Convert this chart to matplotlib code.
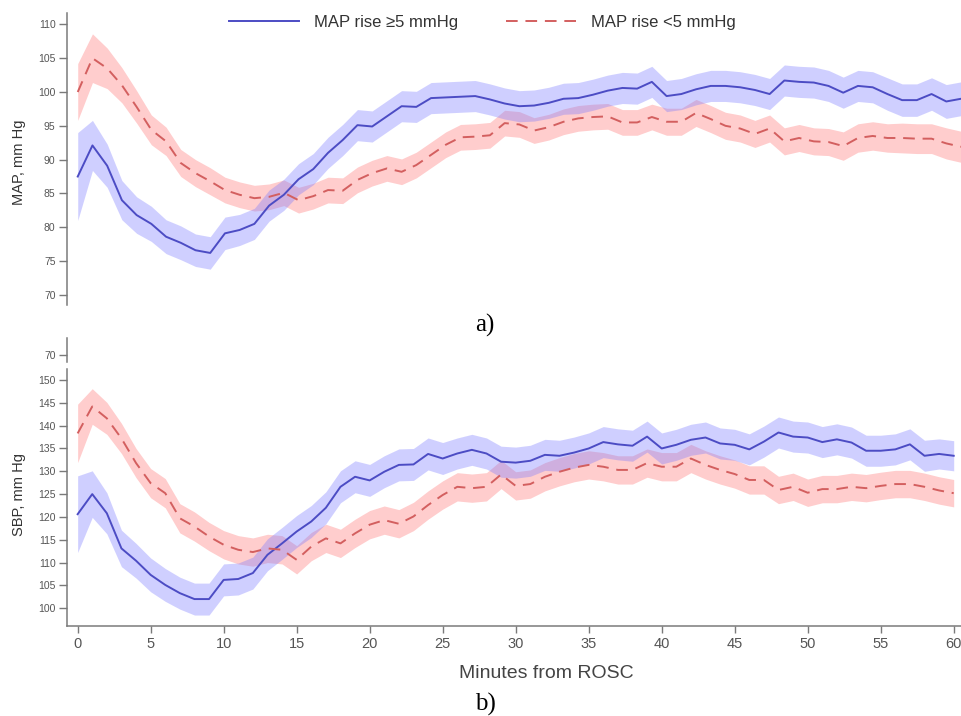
import numpy as np
import matplotlib.pyplot as plt

# minutes from ROSC
minutes = list(range(61))

# MAP (top panel), mean and half-width of the shaded band
map_hi = [87.5, 92.1, 89.1, 84.0, 81.8, 80.5, 78.6, 77.7, 76.6, 76.2,
          79.1, 79.6, 80.5, 83.2, 84.8, 87.1, 88.6, 91.0, 92.9, 95.1,
          94.9, 96.4, 97.9, 97.8, 99.1, 99.2, 99.3, 99.4, 98.9, 98.3,
          97.9, 98.0, 98.4, 99.0, 99.1, 99.6, 100.2, 100.6, 100.5, 101.5,
          99.4, 99.7, 100.4, 100.9, 100.9, 100.7, 100.3, 99.7, 101.7, 101.5,
          101.4, 100.9, 99.9, 100.9, 100.7, 99.7, 98.8, 98.8, 99.7, 98.6,
          99.0]
map_hi_ci = [6.5, 3.7, 3.2, 2.9, 2.7, 2.6, 2.5, 2.5, 2.4, 2.4,
             2.4, 2.3, 2.3, 2.3, 2.3, 2.3, 2.3, 2.3, 2.3, 2.3,
             2.3, 2.3, 2.3, 2.3, 2.3, 2.3, 2.3, 2.3, 2.3, 2.3,
             2.3, 2.3, 2.3, 2.3, 2.3, 2.3, 2.3, 2.3, 2.3, 2.3,
             2.3, 2.3, 2.3, 2.3, 2.3, 2.3, 2.3, 2.3, 2.3, 2.3,
             2.3, 2.3, 2.3, 2.3, 2.3, 2.4, 2.4, 2.4, 2.4, 2.5,
             2.5]
map_lo = [100.0, 105.0, 103.5, 101.0, 97.8, 94.4, 92.7, 89.5, 88.0, 86.8,
          85.5, 84.8, 84.3, 84.5, 85.1, 84.0, 84.6, 85.5, 85.4, 87.0,
          88.0, 88.7, 88.2, 89.2, 90.7, 92.2, 93.3, 93.4, 93.6, 95.4,
          95.2, 94.3, 94.8, 95.6, 96.1, 96.3, 96.4, 95.5, 95.5, 96.3,
          95.6, 95.6, 96.9, 96.0, 95.0, 94.6, 93.8, 94.6, 92.7, 93.2,
          92.7, 92.6, 92.0, 93.2, 93.5, 93.2, 93.2, 93.1, 93.1, 92.4,
          91.9]
map_lo_ci = [4.2, 3.6, 3.0, 2.6, 2.4, 2.2, 2.1, 2.0, 2.0, 2.0,
             1.9, 1.9, 1.9, 1.9, 1.9, 1.9, 1.9, 1.9, 1.9, 1.9,
             1.9, 1.9, 1.9, 1.9, 1.9, 1.9, 1.9, 1.9, 1.9, 1.9,
             1.9, 1.9, 1.9, 1.9, 1.9, 1.9, 1.9, 1.9, 1.9, 1.9,
             2.0, 2.0, 2.0, 2.0, 2.0, 2.0, 2.0, 2.0, 2.0, 2.0,
             2.0, 2.0, 2.1, 2.1, 2.1, 2.1, 2.2, 2.2, 2.2, 2.3,
             2.3]

# SBP (bottom panel)
sbp_hi = [120.6, 125.0, 120.8, 113.1, 110.4, 107.3, 105.1, 103.3, 102.0, 102.0,
          106.2, 106.4, 107.7, 111.7, 114.2, 116.8, 119.0, 122.0, 126.6, 128.8,
          128.0, 129.9, 131.4, 131.5, 133.8, 132.8, 133.9, 134.7, 133.9, 132.1,
          131.9, 132.3, 133.6, 133.4, 134.1, 135.0, 136.4, 135.9, 135.6, 137.6,
          135.0, 135.8, 136.9, 137.4, 136.1, 135.8, 134.8, 136.5, 138.5, 137.6,
          137.4, 136.4, 137.0, 136.3, 134.5, 134.5, 134.8, 135.9, 133.4, 133.8,
          133.4]
sbp_hi_ci = [8.4, 5.1, 4.5, 4.0, 3.8, 3.7, 3.6, 3.5, 3.5, 3.5,
             3.5, 3.5, 3.5, 3.5, 3.5, 3.5, 3.5, 3.5, 3.5, 3.5,
             3.5, 3.5, 3.5, 3.5, 3.5, 3.5, 3.4, 3.4, 3.4, 3.4,
             3.4, 3.4, 3.4, 3.4, 3.4, 3.4, 3.4, 3.4, 3.4, 3.4,
             3.4, 3.4, 3.4, 3.4, 3.4, 3.4, 3.4, 3.4, 3.4, 3.4,
             3.4, 3.4, 3.4, 3.4, 3.4, 3.4, 3.4, 3.4, 3.4, 3.3,
             3.3]
sbp_lo = [138.3, 144.2, 141.6, 137.2, 131.8, 127.4, 125.2, 119.7, 117.9, 115.7,
          113.9, 112.8, 112.3, 113.1, 112.8, 110.6, 113.5, 115.3, 114.2, 116.4,
          118.3, 119.3, 118.5, 120.1, 122.6, 124.8, 126.6, 126.3, 126.6, 129.3,
          126.8, 127.2, 128.8, 129.9, 130.8, 131.4, 131.0, 130.3, 130.3, 131.8,
          131.0, 131.0, 132.8, 131.4, 130.3, 129.4, 128.1, 128.1, 125.9, 126.6,
          125.3, 126.1, 126.1, 126.6, 126.3, 126.8, 127.2, 127.2, 126.6, 125.8,
          125.2]
sbp_lo_ci = [6.4, 3.9, 3.5, 3.3, 3.2, 3.2, 3.2, 3.2, 3.2, 3.1,
             3.1, 3.1, 3.1, 3.1, 3.1, 3.1, 3.1, 3.1, 3.1, 3.1,
             3.1, 3.1, 3.1, 3.1, 3.1, 3.1, 3.1, 3.1, 3.1, 3.1,
             3.1, 3.1, 3.1, 3.1, 3.1, 3.1, 3.1, 3.1, 3.1, 3.1,
             3.1, 3.1, 3.1, 3.1, 3.1, 3.1, 3.1, 3.1, 3.0, 3.0,
             3.0, 3.0, 3.0, 3.0, 3.0, 3.0, 3.0, 3.0, 3.0, 3.0,
             3.0]

labels = ['MAP rise \u22655 mmHg', 'MAP rise <5 mmHg']
map_ticks = [70, 75, 80, 85, 90, 95, 100, 105, 110]
sbp_ticks = [100, 105, 110, 115, 120, 125, 130, 135, 140, 145, 150]
x_ticks = [0, 5, 10, 15, 20, 25, 30, 35, 40, 45, 50, 55, 60]

BLUE, BLUE_FILL = '#4c4cc4', '#7c7cff'
RED, RED_FILL = '#d35f5f', '#ff7c7c'
SPINE = '#7a7a7a'
TICKTXT = '#555555'

plt.rcParams['font.family'] = ['Liberation Sans', 'DejaVu Sans']


def draw_panel(ax, hi, hi_ci, lo, lo_ci):
    x = np.array(minutes)
    hi, hi_ci = np.array(hi), np.array(hi_ci)
    lo, lo_ci = np.array(lo), np.array(lo_ci)
    ax.fill_between(x, lo - lo_ci, lo + lo_ci, color=RED_FILL, alpha=0.38, lw=0)
    ax.fill_between(x, hi - hi_ci, hi + hi_ci, color=BLUE_FILL, alpha=0.36, lw=0)
    ax.plot(x, hi, color=BLUE, lw=1.4, label=labels[0])
    ax.plot(x, lo, color=RED, lw=1.4, ls=(0, (6, 4)), label=labels[1])
    for s in ['top', 'right']:
        ax.spines[s].set_visible(False)
    for s in ['left', 'bottom']:
        ax.spines[s].set_color(SPINE)
        ax.spines[s].set_linewidth(1.1)
    ax.tick_params(axis='y', direction='out', length=6, width=1, color=SPINE,
                   labelsize=7.5, labelcolor=TICKTXT, pad=2)
    ax.tick_params(axis='x', direction='out', length=5, width=1, color=SPINE,
                   labelsize=10.5, labelcolor=TICKTXT, pad=3)


fig = plt.figure(figsize=(9.61, 7.16), dpi=100)

# a) MAP
ax1 = fig.add_axes([0.0694, 0.574, 0.9306, 0.408])
draw_panel(ax1, map_hi, map_hi_ci, map_lo, map_lo_ci)
ax1.set_xlim(-0.75, 60.0)
ax1.set_ylim(68.5, 111.7)
ax1.set_yticks(map_ticks)
ax1.spines['bottom'].set_visible(False)
ax1.set_xticks([])
ax1.set_ylabel('MAP, mm Hg', fontsize=10.5, color='#333333')
ax1.yaxis.set_label_coords(-0.045, 0.49)

# b) SBP, with the stray "70" tick above a broken axis
ax2 = fig.add_axes([0.0694, 0.1257, 0.9306, 0.4022])
draw_panel(ax2, sbp_hi, sbp_hi_ci, sbp_lo, sbp_lo_ci)
ax2.set_xlim(-0.75, 60.5)
ax2.set_ylim(96.1, 159.2)
ax2.set_yticks(sbp_ticks + [155.5])
ax2.set_yticklabels([str(t) for t in sbp_ticks] + ['70'])
ax2.set_xticks(x_ticks)
ax2.spines['left'].set_bounds(96.1, 152.4)
ax2.plot([0, 0], [153.9, 159.2], transform=ax2.get_yaxis_transform(),
         color=SPINE, lw=1.1, clip_on=False)
ax2.set_ylabel('SBP, mm Hg', fontsize=10.5, color='#333333')
ax2.yaxis.set_label_coords(-0.045, 0.455)

fig.text(0.569, 0.06, 'Minutes from ROSC', fontsize=14, color='#444444',
         ha='center', va='center')
fig.text(0.505, 0.546, 'a)', fontsize=18, family='Liberation Serif',
         ha='center', va='center')
fig.text(0.505, 0.016, 'b)', fontsize=18, family='Liberation Serif',
         ha='center', va='center')

handles, _ = ax1.get_legend_handles_labels()
fig.legend(handles, labels, loc='center', bbox_to_anchor=(0.502, 0.969),
           ncol=2, frameon=False, fontsize=12, handlelength=4.2,
           handletextpad=0.9, columnspacing=2.9, labelcolor='#333333')

fig.savefig('out.png', dpi=100)
